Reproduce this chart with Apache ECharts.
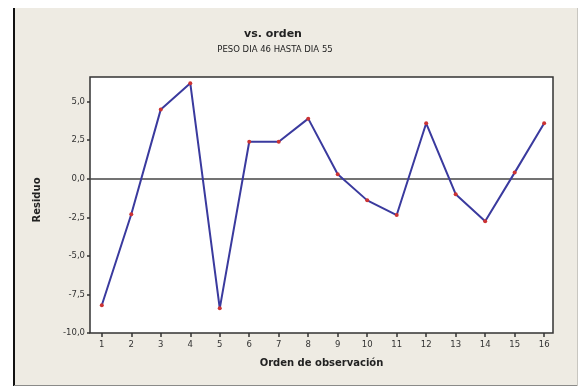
<!DOCTYPE html>
<html>
<head>
<meta charset="utf-8">
<script src="https://cdn.jsdelivr.net/npm/echarts@6/dist/echarts.min.js"></script>
<style>
  html, body { margin: 0; padding: 0; background: #ffffff; }
  #chart { width: 579px; height: 387px; }
</style>
</head>
<body>
<div id="chart"></div>
<script>
// Observation order and residuals
const orden = [1, 2, 3, 4, 5, 6, 7, 8, 9, 10, 11, 12, 13, 14, 15, 16];
const residuo = [-8.2, -2.3, 4.5, 6.2, -8.4, 2.4, 2.4, 3.9, 0.3, -1.4, -2.35, 3.6, -1.0, -2.75, 0.4, 3.6];
const xTicks = [1, 2, 3, 4, 5, 6, 7, 8, 9, 10, 11, 12, 13, 14, 15, 16];
const yTicks = [-10, -7.5, -5, -2.5, 0, 2.5, 5];

const points = orden.map((o, i) => [o, residuo[i]]);
const fmtComma = v => v.toFixed(1).replace('.', ',');
const font = '"DejaVu Sans", sans-serif';

const chart = echarts.init(document.getElementById('chart'), null, { renderer: 'canvas' });
chart.setOption({
  animation: false,
  backgroundColor: '#ffffff',
  graphic: [
    { type: 'rect', shape: { x: 14, y: 8, width: 563, height: 377 }, style: { fill: '#eeebe3' }, z: -10 },
    { type: 'line', shape: { x1: 14, y1: 8, x2: 14, y2: 386 }, style: { stroke: '#111', lineWidth: 2 }, z: -5 },
    { type: 'line', shape: { x1: 14, y1: 385.5, x2: 578, y2: 385.5 }, style: { stroke: '#8a8a88', lineWidth: 1 }, z: -5 },
    { type: 'line', shape: { x1: 577.5, y1: 8, x2: 577.5, y2: 386 }, style: { stroke: '#c8c6c0', lineWidth: 1 }, z: -5 },
    { type: 'text', x: 37, y: 200, rotation: Math.PI / 2,
      style: { text: 'Residuo', font: 'bold 10px ' + font, fill: '#222', align: 'center', verticalAlign: 'middle' } }
  ],
  title: [
    { text: 'vs. orden', left: 268, top: 24, textAlign: 'center',
      textStyle: { fontFamily: font, fontSize: 11, fontWeight: 'bold', color: '#222' } },
    { text: 'PESO DIA 46 HASTA DIA 55', left: 270, top: 40, textAlign: 'center',
      textStyle: { fontFamily: font, fontSize: 8.5, fontWeight: 'normal', color: '#222' } }
  ],
  grid: { left: 90, right: 26, top: 77, bottom: 54, show: true, backgroundColor: '#ffffff', borderColor: '#333', borderWidth: 1.5 },
  xAxis: {
    type: 'value', min: 0.6, max: 16.3, position: 'bottom',
    name: 'Orden de observación', nameLocation: 'middle', nameGap: 25,
    nameTextStyle: { fontFamily: font, fontSize: 10, fontWeight: 'bold', color: '#222' },
    axisLine: { show: false, onZero: false },
    axisTick: { show: true, length: 4, lineStyle: { color: '#333', width: 1.5 }, customValues: xTicks },
    axisLabel: { customValues: xTicks, fontFamily: font, fontSize: 8.5, color: '#333', margin: 7 },
    splitLine: { show: false }
  },
  yAxis: {
    type: 'value', min: -10, max: 6.6,
    axisLine: { show: false, onZero: false },
    axisTick: { show: true, length: 3, lineStyle: { color: '#333', width: 1.5 }, customValues: yTicks },
    axisLabel: { customValues: yTicks, fontFamily: font, fontSize: 8.5, color: '#333', margin: 5, formatter: fmtComma },
    splitLine: { show: false }
  },
  series: [{
    type: 'line',
    data: points,
    lineStyle: { color: '#3a3a9e', width: 2 },
    symbol: 'circle', symbolSize: 4,
    itemStyle: { color: '#cc3333' },
    markLine: {
      silent: true, symbol: 'none', label: { show: false },
      lineStyle: { color: '#444', width: 1.5, type: 'solid' },
      data: [{ yAxis: 0 }],
      z: 1
    }
  }]
});
</script>
</body>
</html>
